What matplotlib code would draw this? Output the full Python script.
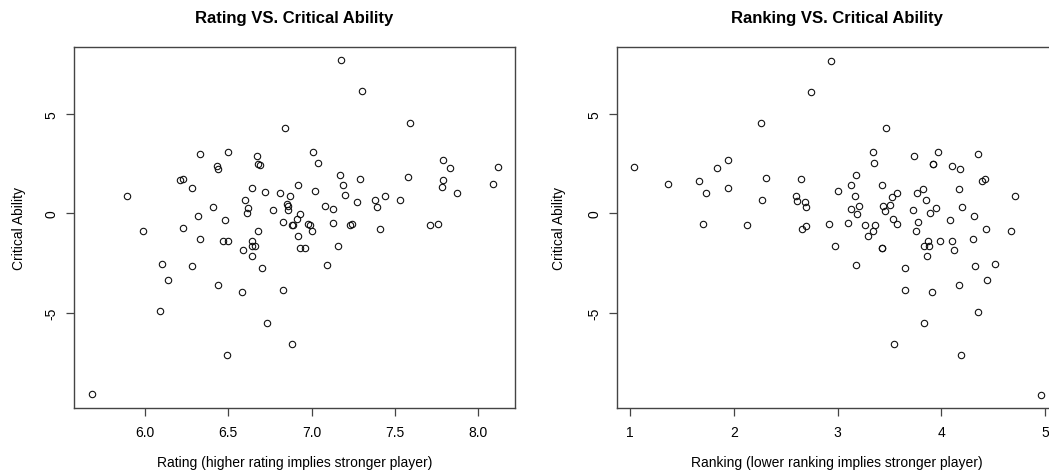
import matplotlib
matplotlib.use("Agg")
import matplotlib.pyplot as plt

plt.rcParams['font.family'] = ['Liberation Sans', 'DejaVu Sans']
plt.rcParams['axes.unicode_minus'] = False

# ---- data ----
rating = [6.84, 5.89, 6.33, 6.50, 6.67, 6.68, 6.69, 6.43, 6.44, 6.21, 6.23, 6.28, 6.64, 6.72,
          6.81, 6.87, 6.92, 6.60, 6.62, 6.61, 6.77, 6.85, 6.86, 6.86, 6.41, 6.32, 6.48, 5.99,
          6.23, 6.68, 6.83, 6.88, 6.89, 6.91, 6.93, 7.175, 7.30, 7.59, 7.01, 7.04, 7.79, 7.83,
          8.12, 8.09, 7.17, 7.19, 7.29, 7.58, 7.79, 7.78, 7.87, 7.02, 7.20, 7.08, 7.13, 7.27,
          7.38, 7.39, 7.44, 7.53, 6.98, 6.99, 7.00, 7.13, 7.23, 7.24, 7.41, 7.71, 7.76, 6.92,
          6.33, 6.47, 6.50, 6.64, 6.64, 6.66, 6.59, 6.64, 6.93, 6.96, 6.10, 6.28, 6.70, 6.14,
          6.44, 6.58, 6.83, 6.09, 6.73, 6.88, 6.49, 5.68, 7.16, 7.09]
crit_rating = [4.30, 0.89, 2.99, 3.07, 2.90, 2.50, 2.45, 2.40, 2.24, 1.65, 1.73, 1.25, 1.25, 1.07,
               1.03, 0.85, 1.43, 0.66, 0.26, 0.01, 0.18, 0.46, 0.36, 0.18, 0.31, -0.14, -0.33, -0.90,
               -0.76, -0.90, -0.44, -0.58, -0.60, -0.28, -0.03, 7.68, 6.12, 4.55, 3.07, 2.54, 2.67, 2.29,
               2.34, 1.47, 1.92, 1.42, 1.73, 1.80, 1.65, 1.30, 1.03, 1.12, 0.90, 0.36, 0.23, 0.58,
               0.66, 0.31, 0.85, 0.66, -0.56, -0.61, -0.90, -0.49, -0.61, -0.54, -0.78, -0.58, -0.54, -1.15,
               -1.27, -1.37, -1.40, -1.37, -1.65, -1.62, -1.85, -2.12, -1.72, -1.75, -2.55, -2.64, -2.74, -3.33,
               -3.59, -3.94, -3.86, -4.93, -5.52, -6.54, -7.13, -9.10, -1.62, -2.60]

ranking = [2.743, 2.26, 1.04, 1.36, 1.66, 1.84, 1.94, 1.73, 1.94, 2.31, 2.65, 2.27, 2.60, 2.61,
           2.68, 2.69, 1.70, 2.125, 2.66, 2.69, 2.935, 3.47, 3.34, 3.35, 3.74, 3.97, 3.92, 3.92,
           4.35, 4.10, 4.18, 4.39, 4.42, 3.18, 3.125, 3.43, 3.00, 3.17, 3.57, 3.52, 3.76, 3.82,
           4.17, 4.71, 3.13, 3.21, 3.19, 3.44, 3.50, 3.46, 3.85, 3.73, 3.89, 3.95, 4.20, 4.08,
           4.31, 3.53, 3.57, 3.77, 3.755, 2.92, 3.10, 3.26, 3.36, 3.34, 3.29, 4.43, 4.67, 2.97,
           3.43, 3.43, 3.87, 3.83, 3.88, 3.99, 4.10, 4.30, 3.86, 4.12, 3.18, 3.65, 4.32, 4.52,
           3.65, 3.91, 4.17, 4.44, 4.35, 3.83, 3.54, 4.19, 4.96]
crit_ranking = [6.11, 4.54, 2.31, 1.46, 1.64, 2.26, 2.66, 1.01, 1.27, 1.77, 1.72, 0.65, 0.85, 0.63,
                0.58, 0.30, -0.55, -0.60, -0.79, -0.64, 7.67, 4.29, 3.07, 2.53, 2.88, 3.07, 2.46, 2.46,
                2.98, 2.39, 2.23, 1.64, 1.72, 1.91, 1.41, 1.41, 1.11, 0.89, 1.02, 0.83, 1.04, 1.24,
                1.24, 0.89, 0.22, 0.35, -0.04, 0.35, 0.43, 0.13, 0.65, 0.17, 0.00, 0.25, 0.30, -0.34,
                -0.15, -0.29, -0.55, -0.45, -0.90, -0.54, -0.50, -0.59, -0.59, -0.90, -1.16, -0.79, -0.90, -1.63,
                -1.74, -1.74, -1.38, -1.66, -1.63, -1.41, -1.38, -1.28, -2.13, -1.86, -2.61, -2.75, -2.65, -2.56,
                -3.87, -3.95, -3.60, -3.34, -4.94, -5.53, -6.55, -7.14, -9.12]

rating_ticks = [6.0, 6.5, 7.0, 7.5, 8.0]
rating_tick_labels = ["6.0", "6.5", "7.0", "7.5", "8.0"]
ranking_ticks = [1, 2, 3, 4, 5]
ranking_tick_labels = ["1", "2", "3", "4", "5"]
crit_ticks = [-5, 0, 5]
crit_tick_labels = ["-5", "0", "5"]

W, H = 1049, 477
fig = plt.figure(figsize=(W / 100, H / 100), dpi=100)
fig.patch.set_facecolor('white')

def px_axes(left, top, right, bottom):
    return fig.add_axes([left / W, 1 - bottom / H, (right - left) / W, (bottom - top) / H])

ax1 = px_axes(74, 48.3, 515, 409)
ax2 = px_axes(617, 48.3, 1056, 409)

spine_col = '#444444'
for ax, x, y, xt, xtl, xlim in [
        (ax1, rating, crit_rating, rating_ticks, rating_tick_labels, (5.574, 8.221)),
        (ax2, ranking, crit_ranking, ranking_ticks, ranking_tick_labels, (0.872, 5.105))]:
    ax.plot(x, y, linestyle='none', marker='o', markersize=4.6, markerfacecolor='none',
            markeredgecolor='#111111', markeredgewidth=0.8)
    ax.set_xlim(*xlim)
    ax.set_ylim(-9.78, 8.34)
    ax.set_xticks(xt)
    ax.set_xticklabels(xtl, fontsize=10)
    ax.set_yticks(crit_ticks)
    ax.set_yticklabels(crit_tick_labels, fontsize=10, rotation=90, va='center', ha='right')
    ax.tick_params(axis='both', direction='out', length=5.5, width=0.9, color=spine_col)
    ax.tick_params(axis='x', pad=7)
    ax.tick_params(axis='y', pad=6)
    for s in ax.spines.values():
        s.set_color(spine_col)
        s.set_linewidth(1.0)

def ftext(xp, yp, s, **kw):
    fig.text(xp / W, 1 - yp / H, s, **kw)

ftext(294.5, 19, "Rating VS. Critical Ability", ha='center', va='center', fontsize=12, fontweight='bold')
ftext(836.5, 19, "Ranking VS. Critical Ability", ha='center', va='center', fontsize=12, fontweight='bold')
ftext(294.5, 463, "Rating (higher rating implies stronger player)", ha='center', va='center', fontsize=10)
ftext(836.5, 463, "Ranking (lower ranking implies stronger player)", ha='center', va='center', fontsize=10)
ftext(19, 228.5, "Critical Ability", ha='center', va='center', rotation=90, fontsize=10)
ftext(559, 228.5, "Critical Ability", ha='center', va='center', rotation=90, fontsize=10)

fig.savefig("out.png", dpi=100)
